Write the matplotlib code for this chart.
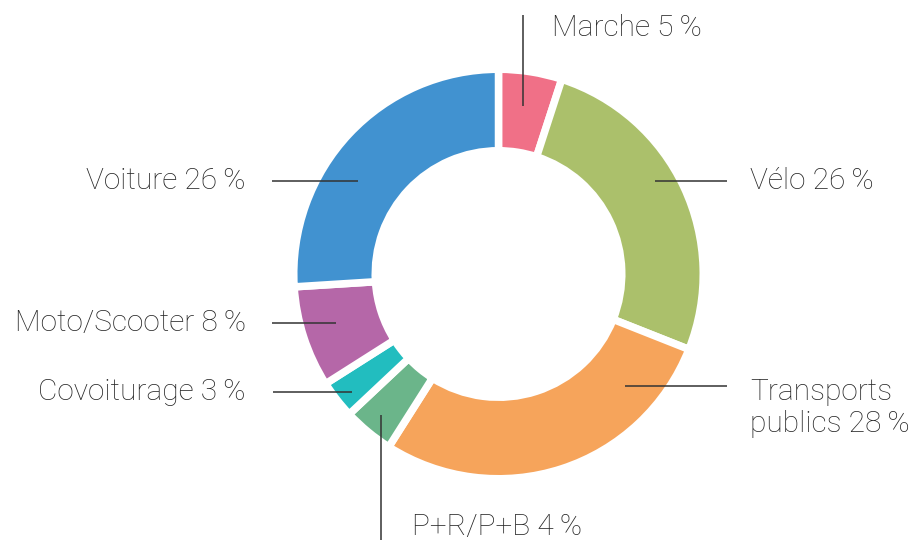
import matplotlib
matplotlib.use("Agg")
import matplotlib.pyplot as plt

categories = ["Marche", "Vélo", "Transports\npublics", "P+R/P+B", "Covoiturage", "Moto/Scooter", "Voiture"]
values = [5, 26, 28, 4, 3, 8, 26]
colors = ["#F07087", "#ABC06B", "#F6A45B", "#6BB58A", "#22BDBF", "#B567A8", "#4192D0"]

# layout (pixel coords, y from top): leader line start, end, text anchor, alignment
layout = [
    ((523, 106), (523, 15), (552, 28), "left"),
    ((655, 181), (727, 181), (750, 181), "left"),
    ((625, 386), (727, 386), (750, 408), "left"),
    ((381, 415), (381, 540), (412, 527), "left"),
    ((352, 392), (273, 392), (246, 392), "right"),
    ((336, 323), (272, 323), (246, 323), "right"),
    ((358, 181), (272, 181), (246, 181), "right"),
]

W, H = 917, 540
fig = plt.figure(figsize=(W / 100, H / 100), dpi=100)
ax = fig.add_axes([0, 0, 1, 1])

cx, cy = 498.5, H - 274
r_out, r_in = 201, 127
gap_pt = 5.4
gap_px = gap_pt * 100 / 72
ax.pie(values, colors=colors, startangle=90, counterclock=False,
       center=(cx, cy), radius=r_out + gap_px / 2,
       wedgeprops=dict(width=(r_out - r_in) + gap_px, edgecolor="white", linewidth=gap_pt),
       frame=True)
ax.set_xlim(0, W)
ax.set_ylim(0, H)
ax.set_aspect("equal")
ax.axis("off")

fam = ["Roboto", "DejaVu Sans"]
for cat, v, (p0, p1, tp, ha) in zip(categories, values, layout):
    ax.plot([p0[0], p1[0]], [H - p0[1], H - p1[1]], color="#333333", lw=1.1, solid_capstyle="butt")
    label = f"{cat} {v}\u2009%"
    ax.text(tp[0], H - tp[1], label, ha=ha, va="center", fontsize=21.5,
            family=fam, fontweight="light", color="#262626", linespacing=1.2)

fig.savefig("out.png", dpi=100)
